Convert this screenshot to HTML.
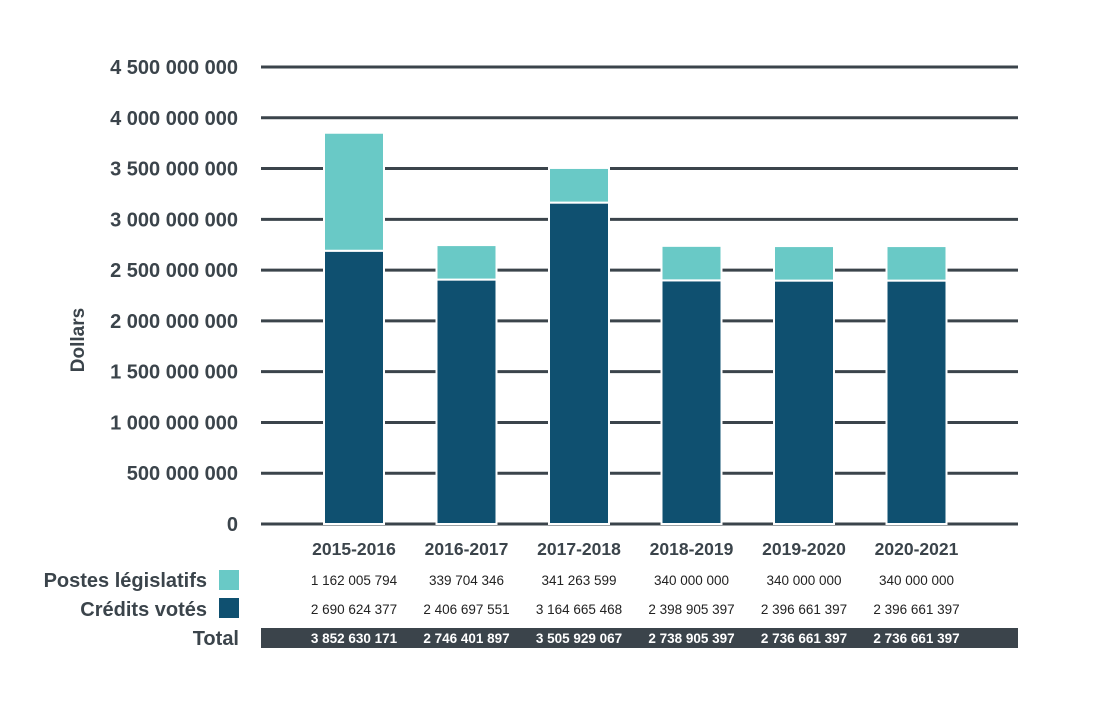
<!DOCTYPE html>
<html><head><meta charset="utf-8"><style>
body{margin:0;background:#fff;}
svg{display:block;font-family:"Liberation Sans",Arial,sans-serif;}
</style></head><body>
<svg id="c" width="1106" height="718"></svg>
<script>
const categories=["2015-2016","2016-2017","2017-2018","2018-2019","2019-2020","2020-2021"];
const credits=[2690624377,2406697551,3164665468,2398905397,2396661397,2396661397];
const postes=[1162005794,339704346,341263599,340000000,340000000,340000000];
const yTicks=[0,500000000,1000000000,1500000000,2000000000,2500000000,3000000000,3500000000,4000000000,4500000000];
const creditLabels=["2 690 624 377","2 406 697 551","3 164 665 468","2 398 905 397","2 396 661 397","2 396 661 397"];
const posteLabels=["1 162 005 794","339 704 346","341 263 599","340 000 000","340 000 000","340 000 000"];
const totalLabels=["3 852 630 171","2 746 401 897","3 505 929 067","2 738 905 397","2 736 661 397","2 736 661 397"];
const svg=document.getElementById('c');const NS="http://www.w3.org/2000/svg";
const y=v=>524-v*457/4500000000;
const x=i=>354+i*112.5;
function mk(t,a,txt){const e=document.createElementNS(NS,t);for(const k in a)e.setAttribute(k,a[k]);if(txt!=null)e.textContent=txt;svg.appendChild(e);return e;}
const fmt=v=>String(v).replace(/\B(?=(\d{3})+(?!\d))/g," ");
yTicks.forEach(v=>{
 let l=mk('line',{x1:261,x2:1018,y1:y(v),y2:y(v),stroke:'#3b444b','stroke-width':3});
 
 let t=mk('text',{x:238,y:y(v)+7,'text-anchor':'end','font-size':20,'font-weight':'bold',fill:'#3b444b'},fmt(v));
 
});
let yt=mk('text',{transform:'translate(84,340) rotate(-90)','text-anchor':'middle','font-size':19,'font-weight':'bold',fill:'#3b444b'},'Dollars');

categories.forEach((c,i)=>{
 const w=60,bx=x(i)-w/2;
 let b1=mk('rect',{x:bx,y:y(credits[i]),width:w,height:y(0)-y(credits[i]),fill:'#0f5070',stroke:'#fff','stroke-width':2});
 
 let b2=mk('rect',{x:bx,y:y(credits[i]+postes[i]),width:w,height:y(credits[i])-y(credits[i]+postes[i]),fill:'#69c9c6',stroke:'#fff','stroke-width':2});
 
 let t=mk('text',{x:x(i),y:555,'text-anchor':'middle','font-size':17.5,'font-weight':'bold',fill:'#3b444b'},c);
 
});
let tb=mk('rect',{x:261,y:628,width:757,height:20,fill:'#3b444b'});

categories.forEach((c,i)=>{
 let a=mk('text',{x:x(i),y:585,'text-anchor':'middle','font-size':13.5,fill:'#222'},posteLabels[i]);
 
 let b=mk('text',{x:x(i),y:614,'text-anchor':'middle','font-size':13.5,fill:'#222'},creditLabels[i]);
 
 let d=mk('text',{x:x(i),y:643,'text-anchor':'middle','font-size':13.5,'font-weight':'bold',fill:'#fff'},totalLabels[i]);
 
});
let l1=mk('text',{x:207,y:587,'text-anchor':'end','font-size':20,'font-weight':'bold',fill:'#3b444b'},'Postes législatifs');

let s1=mk('rect',{x:219,y:570,width:20,height:20,fill:'#69c9c6'});

let l2=mk('text',{x:207,y:616,'text-anchor':'end','font-size':20,'font-weight':'bold',fill:'#3b444b'},'Crédits votés');

let s2=mk('rect',{x:219,y:598,width:20,height:20,fill:'#0f5070'});

let l3=mk('text',{x:239,y:645,'text-anchor':'end','font-size':20,'font-weight':'bold',fill:'#3b444b'},'Total');

</script>
</body></html>
